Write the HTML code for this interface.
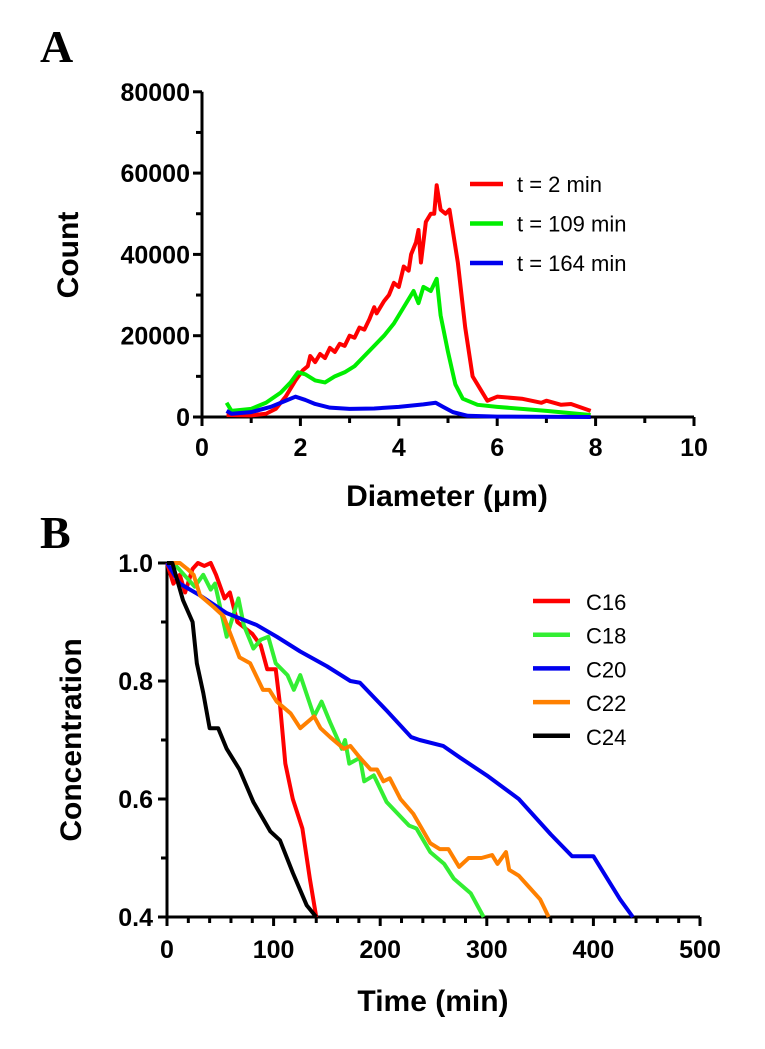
<!DOCTYPE html>
<html><head><meta charset="utf-8"><style>
html,body{margin:0;padding:0;background:#fff;}
svg{display:block;font-family:"Liberation Sans",Arial,sans-serif;}
.tk{font-weight:bold;font-size:25px;fill:#000;}
.ttl{font-weight:bold;font-size:30px;fill:#000;}
.leg{font-size:22px;fill:#000;}
</style></head><body>
<svg id="chart" width="765" height="1049" viewBox="0 0 765 1049">
<text x="40" y="62" font-family="Liberation Serif,serif" font-weight="bold" font-size="46">A</text>
<text x="40" y="548" font-family="Liberation Serif,serif" font-weight="bold" font-size="46">B</text>
<g id="pa"></g>
<g id="pb"></g>
</svg>
<script>
// Panel A data
const aXTicks=[0,2,4,6,8,10];
const aYTicks=[0,20000,40000,60000,80000];
const aNames=["t = 2 min","t = 109 min","t = 164 min"];
const aRed=[[0.5,500],[1,400],[1.3,800],[1.5,2000],[1.7,5000],[1.9,9000],[2.05,11500],[2.15,12500],[2.2,15000],[2.3,13500],[2.4,15500],[2.5,14500],[2.6,17000],[2.7,16000],[2.8,18000],[2.9,17500],[3.0,20000],[3.1,19500],[3.2,22000],[3.3,21500],[3.4,24000],[3.5,27000],[3.55,25500],[3.7,28500],[3.8,30000],[3.9,33000],[4.0,32000],[4.1,37000],[4.2,36000],[4.25,40000],[4.35,43000],[4.4,46000],[4.45,38000],[4.5,43000],[4.55,48000],[4.65,50000],[4.72,50000],[4.77,57000],[4.85,51000],[4.95,50000],[5.03,51000],[5.2,38000],[5.35,22000],[5.5,10000],[5.65,7000],[5.8,4000],[6.0,5000],[6.5,4500],[6.9,3500],[7.0,4000],[7.3,3000],[7.5,3200],[7.9,1500]];
const aGreen=[[0.5,3500],[0.6,1500],[1.0,2000],[1.3,3500],[1.6,6000],[1.8,8500],[1.95,11000],[2.1,10500],[2.3,9000],[2.5,8500],[2.7,10000],[2.9,11000],[3.1,12500],[3.3,15000],[3.5,17500],[3.7,20000],[3.9,23000],[4.1,27000],[4.2,29000],[4.3,31000],[4.4,28000],[4.5,32000],[4.65,31000],[4.77,34000],[4.85,25000],[5.0,16000],[5.15,8000],[5.3,4500],[5.6,3000],[6,2500],[6.5,2000],[7,1500],[7.9,500]];
const aBlue=[[0.5,1500],[0.6,800],[1.0,1200],[1.4,2500],[1.7,4000],[1.9,5000],[2.1,4200],[2.3,3200],[2.6,2300],[3,2000],[3.5,2100],[4,2500],[4.5,3100],[4.75,3500],[4.9,2500],[5.1,1200],[5.4,300],[6,100],[7.9,0]];
// Panel B data
const bXTicks=[0,100,200,300,400,500];
const bYTicks=[0.4,0.6,0.8,1.0];
const bNames=["C16","C18","C20","C22","C24"];
const bC16=[[0,1],[6,0.965],[12,0.98],[17,0.95],[24,0.99],[29,1.0],[35,0.995],[41,1],[46,0.98],[54,0.94],[59,0.95],[66,0.9],[73,0.89],[80,0.88],[88,0.86],[94,0.82],[102,0.82],[106,0.76],[111,0.66],[118,0.6],[127,0.55],[134,0.465],[140,0.4]];
const bC18=[[0,1],[6,1],[16,0.98],[26,0.96],[34,0.98],[41,0.955],[45,0.965],[56,0.875],[67,0.94],[72,0.895],[81,0.855],[88,0.87],[95,0.875],[102,0.83],[113,0.81],[119,0.785],[125,0.81],[138,0.74],[145,0.765],[153,0.73],[164,0.685],[167,0.7],[171,0.66],[181,0.67],[185,0.63],[194,0.64],[206,0.595],[227,0.555],[234,0.55],[247,0.51],[260,0.49],[269,0.465],[285,0.44],[297,0.4]];
const bC20=[[0,1],[12,0.965],[31,0.945],[56,0.915],[84,0.895],[103,0.875],[125,0.85],[150,0.825],[172,0.8],[181,0.797],[206,0.75],[229,0.705],[237,0.7],[259,0.69],[275,0.67],[300,0.64],[330,0.6],[360,0.54],[380,0.503],[400,0.503],[425,0.43],[437,0.4]];
const bC22=[[0,1],[12,1],[19,0.99],[25,0.98],[31,0.945],[44,0.925],[53,0.91],[68,0.84],[78,0.83],[90,0.785],[96,0.785],[103,0.765],[116,0.745],[125,0.72],[138,0.74],[144,0.72],[153,0.705],[166,0.685],[172,0.69],[181,0.67],[191,0.65],[197,0.65],[203,0.63],[209,0.635],[219,0.6],[231,0.575],[247,0.525],[256,0.515],[264,0.515],[274,0.485],[283,0.5],[295,0.5],[305,0.505],[310,0.49],[318,0.51],[321,0.48],[330,0.47],[340,0.45],[350,0.43],[358,0.4]];
const bC24=[[0,1],[5,1],[15,0.937],[24,0.9],[28,0.83],[34,0.78],[40,0.72],[48,0.72],[56,0.685],[68,0.65],[81,0.595],[97,0.545],[106,0.53],[118,0.475],[131,0.42],[140,0.4]];

const NS="http://www.w3.org/2000/svg";
function mk(p,tag,at){const e=document.createElementNS(NS,tag);for(const k in at)e.setAttribute(k,at[k]);p.appendChild(e);return e;}
function txt(p,x,y,s,cls,anchor){const t=mk(p,"text",{x:x,y:y,"class":cls,"text-anchor":anchor||"start"});t.textContent=s;return t;}

// Panel A
const pa=document.getElementById("pa");
const ax=v=>202+v*49.2, ay=v=>417-v*0.004065;
let e=mk(pa,"path",{d:`M${ax(0)} ${ay(80000)}V${ay(0)}H${ax(10)}`,stroke:"#000","stroke-width":3,fill:"none"});


for(let v=0;v<=10;v++){const l=mk(pa,"line",{x1:ax(v),x2:ax(v),y1:ay(0),y2:ay(0)+(v%2?6:9),stroke:"#000","stroke-width":3});

}
aXTicks.forEach(v=>{const t=txt(pa,ax(v),456,String(v),"tk","middle");

});
for(let v=0;v<=80000;v+=10000){const l=mk(pa,"line",{x1:ax(0)-(v%20000?6:9),x2:ax(0),y1:ay(v),y2:ay(v),stroke:"#000","stroke-width":3});

}
aYTicks.forEach(v=>{const t=txt(pa,190,ay(v)+9,String(v),"tk","end");

});
e=txt(pa,447,506,"Diameter (μm)","ttl","middle");


e=txt(pa,0,0,"Count","ttl","middle");e.setAttribute("transform","translate(78,255) rotate(-90)");


const aCols=["#ff0000","#00ee00","#0000ee"];
[aRed,aGreen,aBlue].forEach((s,i)=>{
 const p=mk(pa,"polyline",{points:s.map(d=>ax(d[0])+","+ay(d[1])).join(" "),fill:"none",stroke:aCols[i],"stroke-width":4,"stroke-linejoin":"round"});
 
 
 const ly=184+i*39.5;
 const l=mk(pa,"line",{x1:470,x2:503,y1:ly,y2:ly,stroke:aCols[i],"stroke-width":4.5});
 
 
 const t=txt(pa,517,ly+8,aNames[i],"leg");
 
 
});

// Panel B
const pb=document.getElementById("pb");
const bx=v=>167+v*1.066, by=v=>563+(1-v)*590;
e=mk(pb,"path",{d:`M${bx(0)} ${by(1)}V${by(0.4)}H${bx(500)}`,stroke:"#000","stroke-width":3,fill:"none"});


for(let v=0;v<=500;v+=20){const l=mk(pb,"line",{x1:bx(v),x2:bx(v),y1:by(0.4),y2:by(0.4)+(v%100?6:9),stroke:"#000","stroke-width":3});

}
bXTicks.forEach(v=>{const t=txt(pb,bx(v),958,String(v),"tk","middle");

});
for(let k=4;k<=10;k++){const v=k/10;const l=mk(pb,"line",{x1:bx(0)-(k%2?6:9),x2:bx(0),y1:by(v),y2:by(v),stroke:"#000","stroke-width":3});

}
bYTicks.forEach(v=>{const t=txt(pb,153,by(v)+9,v.toFixed(1),"tk","end");

});
e=txt(pb,433,1011,"Time (min)","ttl","middle");


e=txt(pb,0,0,"Concentration","ttl","middle");e.setAttribute("transform","translate(81,740) rotate(-90)");


const bCols=["#ff0000","#33ee33","#0000ee","#ff8000","#000000"];
[bC16,bC18,bC20,bC22,bC24].forEach((s,i)=>{
 const p=mk(pb,"polyline",{points:s.map(d=>bx(d[0])+","+by(d[1])).join(" "),fill:"none",stroke:bCols[i],"stroke-width":4,"stroke-linejoin":"round"});
 
 
 const ly=601+i*33.7;
 const l=mk(pb,"line",{x1:533,x2:570,y1:ly,y2:ly,stroke:bCols[i],"stroke-width":4.5});
 
 
 const t=txt(pb,586,ly+9,bNames[i],"leg");t.setAttribute("font-size","25");
 
 
});
</script>
</body></html>
